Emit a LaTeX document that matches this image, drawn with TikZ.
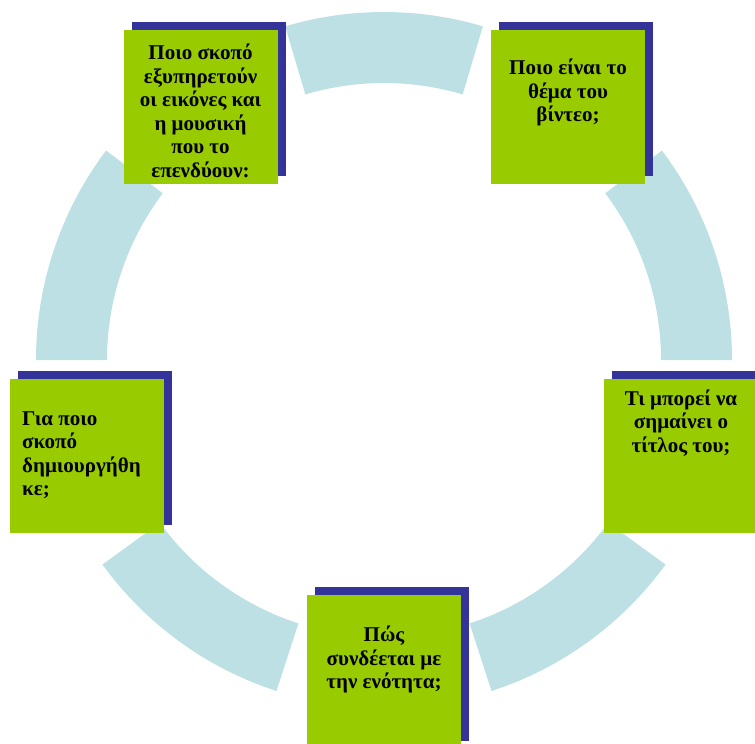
\documentclass[tikz,border=0pt]{standalone}
\usepackage{fontspec}
\setmainfont{Liberation Serif}
\definecolor{ringblue}{RGB}{188,224,228}
\definecolor{boxgreen}{RGB}{153,204,0}
\definecolor{shadowblue}{RGB}{51,51,153}
\newcommand\ringseg[2]{%
  \fill[ringblue] (-#1:348) arc[start angle=-#1, end angle=-#2, radius=348]
    -- (-#2:277) arc[start angle=-#2, end angle=-#1, radius=277] -- cycle;}
\tikzset{
  shadowbox/.style={fill=shadowblue, draw=none, inner sep=0pt, anchor=north west},
  greenbox/.style={fill=boxgreen, draw=none, inner sep=0pt, anchor=north west},
  label/.style={inner sep=0pt, font=\fontsize{21}{23.5}\selectfont\bfseries, text=black}
}
\begin{document}
\begin{tikzpicture}[x=1pt,y=-1pt]
\useasboundingbox (0,0) rectangle (755,744);
\clip (0,0) rectangle (755,744);
\begin{scope}[shift={(384,360)}]
  \ringseg{73.5}{106.5}
  \ringseg{0}{37}
  \ringseg{-72}{-36}
  \ringseg{-144}{-108}
  \ringseg{143}{180}
\end{scope}
% shadows
\node[shadowbox, minimum width=154pt, minimum height=154pt] (s1) at (132,22) {};
\node[shadowbox, minimum width=154pt, minimum height=154pt] (s2) at (499,22) {};
\node[shadowbox, minimum width=154pt, minimum height=154pt] (s3) at (612,371) {};
\node[shadowbox, minimum width=154pt, minimum height=154pt] (s4) at (18,371) {};
\node[shadowbox, minimum width=154pt, minimum height=154pt] (s5) at (315,587) {};
% green boxes
\node[greenbox, minimum width=154pt, minimum height=154pt] (b1) at (124,30) {};
\node[greenbox, minimum width=154pt, minimum height=154pt] (b2) at (491,30) {};
\node[greenbox, minimum width=154pt, minimum height=154pt] (b3) at (604,379) {};
\node[greenbox, minimum width=154pt, minimum height=154pt] (b4) at (10,379) {};
\node[greenbox, minimum width=154pt, minimum height=154pt] (b5) at (307,595) {};
% texts
\node[label, align=center] (t1) at (200.5,111) {Ποιο σκοπό\\εξυπηρετούν\\οι εικόνες και\\η μουσική\\που το\\επενδύουν:};
\node[label, align=center] (t2) at (568,92.5) {Ποιο είναι το\\θέμα του\\βίντεο;};
\node[label, align=center] (t3) at (681,423) {Τι μπορεί να\\σημαίνει ο\\τίτλος του;};
\node[label, align=left, anchor=west] (t4) at (22,455) {Για ποιο\\σκοπό\\δημιουργήθη\\κε;};
\node[label, align=center] (t5) at (384,659.5) {Πώς\\συνδέεται με\\την ενότητα;};
\end{tikzpicture}
\end{document}
